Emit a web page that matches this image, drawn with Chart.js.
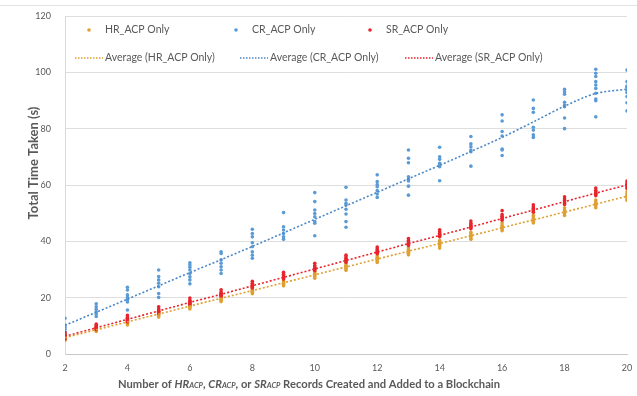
<!DOCTYPE html>
<html>
<head>
<meta charset="utf-8">
<script src="https://cdn.jsdelivr.net/npm/chart.js@4"></script>
<style>
  body { margin: 0; background: #fff; }
  #wrap { position: relative; width: 637px; height: 396px; }
  #topline { position: absolute; left: 0; top: 5px; width: 637px; height: 1px; background: #e3e3e3; }
</style>
</head>
<body>
<div id="wrap">
  <div id="topline"></div>
  <canvas id="chart"></canvas>
</div>
<script>
const records = [2, 3, 4, 5, 6, 7, 8, 9, 10, 11, 12, 13, 14, 15, 16, 17, 18, 19, 20];

// individual runs, one list per x value
const hrRuns = [
  [4.8, 5.2, 5.6, 6.0, 6.3, 6.9],
  [8.0, 8.5, 8.7, 9.1, 9.4, 9.8],
  [10.3, 10.9, 11.2, 11.6, 12.1, 12.7],
  [13.1, 13.6, 13.9, 14.3, 14.8, 15.3],
  [16.0, 16.5, 16.8, 17.2, 17.5, 18.1],
  [18.6, 19.1, 19.4, 19.9, 20.3, 20.9],
  [21.4, 21.9, 22.3, 22.6, 23.2, 23.7],
  [24.2, 24.8, 25.1, 25.6, 26.0, 26.6],
  [26.9, 27.4, 27.9, 28.3, 28.7, 29.3],
  [29.7, 30.3, 30.6, 31.1, 31.5, 32.1],
  [32.5, 33.1, 33.4, 33.9, 34.3, 34.9],
  [35.2, 35.8, 36.1, 36.6, 37.1, 37.7],
  [37.6, 38.4, 38.9, 39.3, 39.8, 40.3],
  [40.7, 41.2, 41.8, 42.1, 42.6, 43.2],
  [43.8, 44.4, 44.8, 45.2, 45.7, 46.5],
  [46.5, 47.1, 47.6, 48.1, 48.6, 49.3],
  [49.2, 49.8, 50.3, 50.6, 51.2, 51.9],
  [51.9, 52.6, 53.0, 53.5, 54.0, 54.7],
  [54.6, 55.1, 55.7, 56.2, 56.8, 57.6]
];

const crRuns = [
  [7.1, 7.9, 8.8, 9.5, 10.3, 12.7],
  [13.3, 14.2, 15.0, 15.9, 16.8, 17.8],
  [15.6, 18.5, 19.2, 20.1, 21.0, 22.7, 23.7],
  [20.1, 21.5, 23.9, 25.1, 26.3, 27.5, 29.8],
  [24.9, 26.3, 27.4, 28.6, 29.8, 30.8, 31.6, 32.4],
  [28.6, 29.8, 31.0, 32.2, 33.4, 35.7, 36.3],
  [34.0, 35.1, 36.3, 38.1, 39.5, 41.6, 42.8, 44.3],
  [40.7, 41.6, 42.8, 44.0, 45.2, 50.2],
  [42.0, 46.4, 47.0, 48.7, 49.9, 51.1, 54.1, 57.3],
  [45.0, 47.0, 49.7, 51.4, 52.9, 53.5, 54.7, 59.2],
  [55.6, 56.8, 58.0, 59.4, 60.2, 61.2, 63.6],
  [56.4, 59.6, 61.4, 62.0, 62.9, 67.9, 69.5, 72.4],
  [61.5, 66.5, 67.1, 67.7, 69.1, 70.0, 73.4],
  [66.7, 71.8, 72.4, 73.6, 74.6, 77.2],
  [70.5, 72.4, 72.8, 77.4, 79.0, 82.7, 84.9],
  [76.9, 77.8, 79.5, 80.5, 85.8, 87.2, 90.2],
  [80.0, 83.8, 87.8, 88.4, 89.4, 92.2, 93.1, 94.0],
  [84.2, 89.9, 90.5, 92.6, 94.3, 95.5, 96.7, 98.5, 99.7, 101.1],
  [86.3, 89.2, 91.4, 92.8, 93.7, 94.7, 95.1, 96.7, 100.8]
];

const srRuns = [
  [5.3, 5.8, 6.2, 6.5, 6.9, 7.6],
  [8.6, 9.0, 9.3, 9.6, 10.0, 10.6],
  [11.4, 11.9, 12.2, 12.6, 13.0, 13.7],
  [14.4, 14.9, 15.2, 15.6, 16.0, 16.8],
  [17.5, 17.9, 18.3, 18.7, 19.1, 19.9],
  [20.4, 20.9, 21.2, 21.6, 22.0, 22.8],
  [23.4, 23.9, 24.2, 24.6, 25.1, 25.8],
  [26.6, 27.0, 27.4, 27.8, 28.3, 29.0],
  [29.6, 30.1, 30.5, 30.9, 31.4, 32.2],
  [32.6, 33.1, 33.5, 33.9, 34.4, 35.1],
  [35.6, 36.0, 36.4, 36.9, 37.3, 38.0],
  [38.5, 39.0, 39.4, 39.8, 40.3, 41.0],
  [41.6, 42.0, 42.4, 42.9, 43.4, 44.1],
  [44.5, 45.0, 45.4, 45.9, 46.4, 47.2],
  [47.5, 48.0, 48.4, 48.9, 49.5, 50.9],
  [50.3, 50.8, 51.2, 51.7, 52.2, 53.0],
  [53.1, 53.6, 54.0, 54.5, 55.0, 55.8],
  [56.2, 56.7, 57.1, 57.6, 58.1, 58.9],
  [58.8, 59.3, 59.8, 60.2, 60.7, 61.4]
];

const hrAverage = [5.8, 8.6, 11.4, 14.2, 17.0, 19.8, 22.5, 25.3, 28.1, 30.9, 33.7, 36.5, 39.2, 42.0, 44.8, 47.6, 50.4, 53.2, 56.0];
const crAverage = [10.2, 14.8, 19.5, 24.2, 28.9, 33.5, 38.2, 43.0, 47.8, 52.6, 57.4, 62.2, 67.0, 71.9, 76.9, 82.4, 88.0, 92.5, 94.0];
const srAverage = [6.3, 9.3, 12.3, 15.3, 18.3, 21.2, 24.2, 27.2, 30.2, 33.2, 36.2, 39.2, 42.1, 45.1, 48.1, 51.1, 54.1, 57.1, 60.0];

const seriesNames = ['HR_ACP Only', 'CR_ACP Only', 'SR_ACP Only'];

const hrColor = '#DFA032';
const crColor = '#5B9BD5';
const srColor = '#E8242C';
const textColor = '#595959';

function toPoints(runs) {
  const pts = [];
  runs.forEach((list, i) => {
    list.forEach(v => pts.push({ x: records[i], y: v }));
  });
  return pts;
}

function toLine(values) {
  return values.map((v, i) => ({ x: records[i], y: v }));
}

function scatterSet(label, runs, color, order) {
  return {
    type: 'scatter',
    label: label,
    data: toPoints(runs),
    backgroundColor: color,
    borderColor: color,
    pointRadius: 1.8,
    pointBorderWidth: 0,
    order: order
  };
}

function averageSet(label, values, color) {
  return {
    type: 'line',
    label: label,
    data: toLine(values),
    borderColor: color,
    backgroundColor: color,
    borderWidth: 1.6,
    borderDash: [2, 2],
    pointRadius: 0,
    tension: 0.3,
    showLine: true,
    order: 0
  };
}

// legend laid out like the original, two rows over the top of the plot
const legendRows = {
  id: 'legendRows',
  afterDraw(chart) {
    const ctx = chart.ctx;
    const cols = [[75, 222, 356], [75, 240, 405]];
    const rowsY = [30, 58];
    ctx.save();
    ctx.font = '10.5px Lato';
    ctx.textBaseline = 'middle';
    chart.data.datasets.forEach((ds, i) => {
      const row = i < 3 ? 0 : 1;
      const x = cols[row][i % 3];
      const y = rowsY[row];
      if (row === 0) {
        ctx.fillStyle = ds.backgroundColor;
        ctx.beginPath();
        ctx.arc(x + 14, y, 1.8, 0, Math.PI * 2);
        ctx.fill();
      } else {
        ctx.strokeStyle = ds.borderColor;
        ctx.lineWidth = 1.6;
        ctx.setLineDash([1.5, 1.5]);
        ctx.beginPath();
        ctx.moveTo(x, y);
        ctx.lineTo(x + 28, y);
        ctx.stroke();
        ctx.setLineDash([]);
      }
      ctx.fillStyle = textColor;
      ctx.fillText(ds.label, x + 30, y);
    });
    ctx.restore();
  }
};

// axis titles, the x one has small italic subscripts
const axisTitles = {
  id: 'axisTitles',
  afterDraw(chart) {
    const ctx = chart.ctx;
    ctx.save();
    ctx.fillStyle = textColor;
    ctx.textBaseline = 'alphabetic';

    ctx.save();
    ctx.translate(38, 163);
    ctx.rotate(-Math.PI / 2);
    ctx.font = 'bold 13px Lato';
    ctx.textAlign = 'center';
    ctx.fillText('Total Time Taken (s)', 0, 0);
    ctx.restore();

    const big = 'bold 11.2px Lato';
    const ital = 'italic bold 11.2px Lato';
    const sub = 'italic bold 7.5px Lato';
    const parts = [
      ['Number of ', big], ['HR', ital], ['ACP', sub], [', ', big],
      ['CR', ital], ['ACP', sub], [', or ', big],
      ['SR', ital], ['ACP', sub],
      [' Records Created and Added to a Blockchain', big]
    ];
    let total = 0;
    parts.forEach(p => { ctx.font = p[1]; total += ctx.measureText(p[0]).width; });
    let x = 309 - total / 2;
    ctx.textAlign = 'left';
    parts.forEach(p => {
      ctx.font = p[1];
      ctx.fillText(p[0], x, 388);
      x += ctx.measureText(p[0]).width;
    });
    ctx.restore();
  }
};

new Chart(document.getElementById('chart'), {
  type: 'scatter',
  data: {
    datasets: [
      scatterSet(seriesNames[0], hrRuns, hrColor, 3),
      scatterSet(seriesNames[1], crRuns, crColor, 2),
      scatterSet(seriesNames[2], srRuns, srColor, 1),
      averageSet('Average (' + seriesNames[0] + ')', hrAverage, hrColor),
      averageSet('Average (' + seriesNames[1] + ')', crAverage, '#4A88C8'),
      averageSet('Average (' + seriesNames[2] + ')', srAverage, srColor)
    ]
  },
  options: {
    responsive: true,
    maintainAspectRatio: false,
    animation: false,
    layout: { padding: { left: 0, right: 10, top: 16, bottom: 0 } },
    plugins: {
      legend: { display: false },
      tooltip: { enabled: false }
    },
    scales: {
      x: {
        type: 'linear',
        min: 2,
        max: 20,
        afterFit: s => { s.height = 42; s.paddingRight = 0; s.paddingLeft = 0; },
        grid: { display: false, drawTicks: false },
        border: { display: true, color: '#c8c8c8' },
        ticks: { stepSize: 2, padding: 9, color: textColor, font: { family: 'Lato', size: 9 } }
      },
      y: {
        min: 0,
        max: 120,
        afterFit: s => { s.width = 65; s.paddingTop = 0; s.paddingBottom = 0; },
        grid: { color: '#dedede', drawTicks: false },
        border: { display: true, color: '#d9d9d9' },
        ticks: { stepSize: 20, padding: 14, color: textColor, font: { family: 'Lato', size: 9 } }
      }
    }
  },
  plugins: [legendRows, axisTitles]
});
</script>
</body>
</html>
